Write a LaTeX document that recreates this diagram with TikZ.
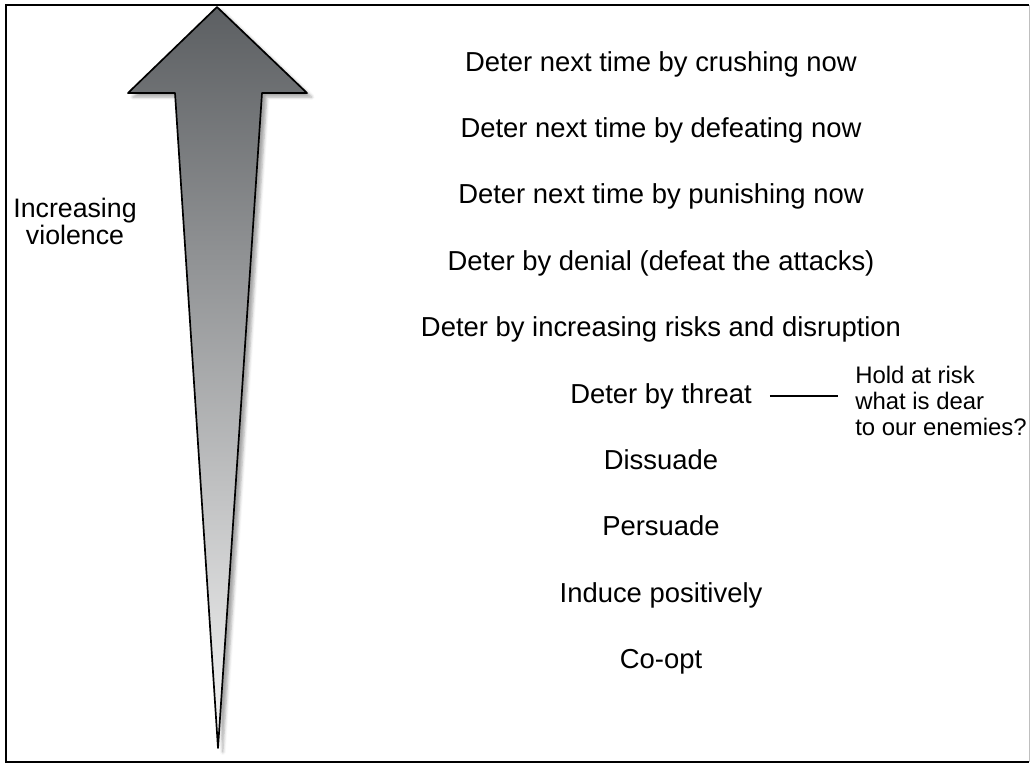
\documentclass[tikz,border=0pt]{standalone}
\usepackage{fontspec}
\setmainfont{Liberation Sans}
\usetikzlibrary{shadows.blur}
\definecolor{arrowtop}{HTML}{5C5F62}
\definecolor{arrowfoot}{HTML}{F6F6F6}
\tikzset{
  rung/.style={font=\fontsize{19.5}{19.5}\selectfont, anchor=base, inner sep=0pt},
  aside/.style={font=\fontsize{17}{18.5}\selectfont, align=left, anchor=north west, inner sep=0pt},
  side/.style={font=\fontsize{19}{19.2}\selectfont, align=center, anchor=north, inner sep=0pt},
  link/.style={line width=2pt, shorten <=0.45cm, shorten >=0.425cm}
}

\begin{document}
\begin{tikzpicture}[x=0.025cm, y=-0.025cm]
  \useasboundingbox (0,0) rectangle (1031,765);

  % Frame
  \draw[line width=2pt] (1029,5) -- (6,5) -- (6,762) -- (1029,762);
  \draw[gray!50, line width=0.6pt] (1029,5) -- (1029,762);

  % Big arrow (LEFT) with soft shadow
  \fill[top color=arrowtop, bottom color=arrowfoot,
        blur shadow={shadow xshift=0.12cm, shadow yshift=-0.1cm, shadow opacity=35}]
    (217,7) -- (307,93) -- (262,93) -- (218,748) -- (175,93) -- (128,93) -- cycle;
  \draw[line width=1.2pt, line join=round]
    (217,7) -- (307,93) -- (262,93) -- (218,748) -- (175,93) -- (128,93) -- cycle;

  % Side label
  \node[side] (violence) at (75,198) {Increasing\\violence};

  % Ladder of options (top = most violent)
  \foreach \name/\txt [count=\i from 0] in {
      crush/Deter next time by crushing now,
      defeat/Deter next time by defeating now,
      punish/Deter next time by punishing now,
      denial/Deter by denial (defeat the attacks),
      risks/Deter by increasing risks and disruption,
      threat/Deter by threat,
      dissuade/Dissuade,
      persuade/Persuade,
      induce/Induce positively,
      coopt/Co-opt} {
    \node[rung] (\name) at (661,{71+66.4*\i}) {\txt};
  }

  % Note on threat
  \node[aside] (hold) at (855,366) {Hold at risk\\what is dear\\to our enemies?};
  \draw[link] (threat.east) -- (threat.east -| hold.west);
\end{tikzpicture}
\end{document}
